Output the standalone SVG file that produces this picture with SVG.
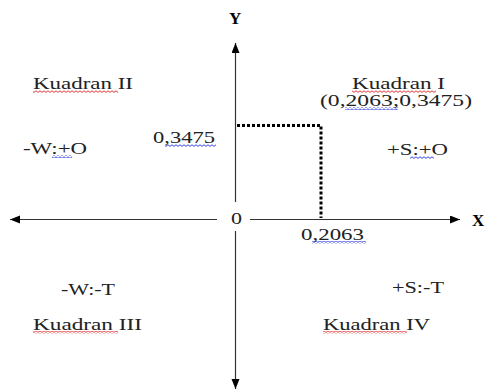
<svg xmlns="http://www.w3.org/2000/svg" width="485" height="391" viewBox="0 0 485 391">
<style>
.t{font-family:"Liberation Serif","Times New Roman",serif;font-size:16px;fill:#222}
.b{font-family:"Liberation Serif","Times New Roman",serif;font-size:17px;font-weight:bold;fill:#000}
.ax{stroke:#333;stroke-width:1.2;fill:none}
.dot{stroke:#000;stroke-width:3;stroke-dasharray:3 2;fill:none}
</style>
<defs>
<marker id="ah" markerUnits="userSpaceOnUse" markerWidth="11" markerHeight="9" refX="10" refY="4" orient="auto">
<path d="M0,0 L10,4 L0,8 z" fill="#000"/>
</marker>
<pattern id="wr" patternUnits="userSpaceOnUse" width="4" height="3">
<path d="M0,0.8 L2,2.4 L4,0.8" stroke="#e02020" stroke-width="0.9" fill="none"/>
</pattern>
<pattern id="wb" patternUnits="userSpaceOnUse" width="4" height="3">
<path d="M0,0.8 L2,2.4 L4,0.8" stroke="#2030e0" stroke-width="0.9" fill="none"/>
</pattern>
</defs>
<rect width="485" height="391" fill="#fff"/>
<g id="connectors">
<line class="ax" x1="235.5" y1="202" x2="235.5" y2="43" marker-end="url(#ah)"/>
<line class="ax" x1="235.5" y1="231" x2="235.5" y2="389" marker-end="url(#ah)"/>
<line class="ax" x1="217" y1="219.5" x2="10" y2="219.5" marker-end="url(#ah)"/>
<line class="ax" x1="250" y1="219.5" x2="460" y2="219.5" marker-end="url(#ah)"/>
<path class="dot" d="M237,125.5 H321 V218"/>
</g>
<g id="axis-labels">
<text class="b" x="229" y="24">Y</text>
<text class="b" x="472" y="226">X</text>
<text class="t" x="231" y="224" textLength="11" lengthAdjust="spacingAndGlyphs">0</text>
</g>
<g id="kuadran-1">
<text class="t" x="352" y="89" textLength="93" lengthAdjust="spacingAndGlyphs">Kuadran I</text>
<rect x="352" y="90" width="84" height="3" fill="url(#wr)"/>
<text class="t" x="320" y="106" textLength="152" lengthAdjust="spacingAndGlyphs">(0,2063;0,3475)</text>
<rect x="345" y="107" width="53" height="3" fill="url(#wb)"/>
<text class="t" x="387" y="155" textLength="61" lengthAdjust="spacingAndGlyphs">+S:+O</text>
<rect x="410" y="156" width="24" height="3" fill="url(#wb)"/>
</g>
<g id="kuadran-2">
<text class="t" x="33" y="89" textLength="100" lengthAdjust="spacingAndGlyphs">Kuadran II</text>
<rect x="33" y="90" width="85" height="3" fill="url(#wr)"/>
<text class="t" x="23" y="154" textLength="64" lengthAdjust="spacingAndGlyphs">-W:+O</text>
<rect x="52" y="155" width="20" height="3" fill="url(#wb)"/>
</g>
<g id="kuadran-3">
<text class="t" x="61" y="295" textLength="54" lengthAdjust="spacingAndGlyphs">-W:-T</text>
<text class="t" x="33" y="330" textLength="109" lengthAdjust="spacingAndGlyphs">Kuadran III</text>
<rect x="33" y="331" width="85" height="3" fill="url(#wr)"/>
</g>
<g id="kuadran-4">
<text class="t" x="392" y="293" textLength="52" lengthAdjust="spacingAndGlyphs">+S:-T</text>
<text class="t" x="323" y="330" textLength="107" lengthAdjust="spacingAndGlyphs">Kuadran IV</text>
<rect x="323" y="331" width="84" height="3" fill="url(#wr)"/>
</g>
<g id="values">
<text class="t" x="153" y="143" textLength="62" lengthAdjust="spacingAndGlyphs">0,3475</text>
<rect x="165" y="144" width="51" height="3" fill="url(#wb)"/>
<text class="t" x="301" y="240" textLength="63" lengthAdjust="spacingAndGlyphs">0,2063</text>
<rect x="312" y="241" width="54" height="3" fill="url(#wb)"/>
</g>
</svg>
